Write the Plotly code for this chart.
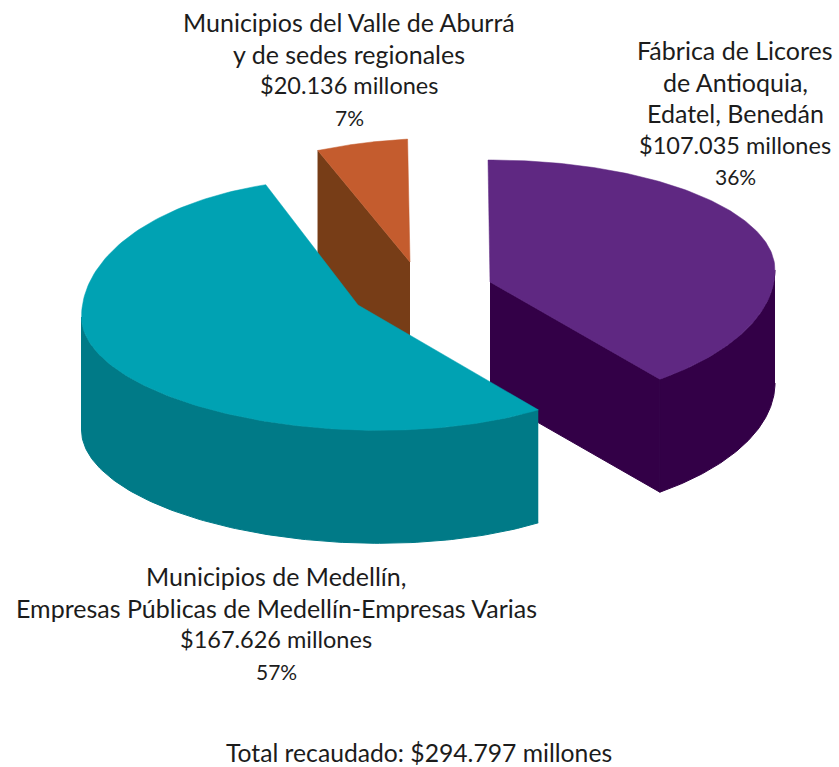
import numpy as np
import plotly.graph_objects as go

# ---- data ----
slice_names = ["Fabrica-Edatel-Benedan", "Medellin-EPM-Varias", "Valle de Aburra"]
slice_values = [107035, 167626, 20136]

label_lines = [
    ["Fábrica de Licores", "de Antioquia,", "Edatel, Benedán", "$107.035 millones", "36%"],
    ["Municipios de Medellín,", "Empresas Públicas de Medellín-Empresas Varias", "$167.626 millones", "57%"],
    ["Municipios del Valle de Aburrá", "y de sedes regionales", "$20.136 millones", "7%"],
]
total_label = "Total recaudado: $294.797 millones"

# ---- drawing style (pixel space of the 839x767 page) ----
W, H = 839, 767
DEPTH = 113
STYLE = [
    dict(top="#5F2882", side="#330047", cx=490, cy=270, apex_y=282, rx=285, ry_top=110, ry_bot=136, tilt=0, adj=(-0.4, 12.7), wall=(90, None)),
    dict(top="#00A2B3", side="#007A87", cx=358, cy=325, apex_y=305, rx=276.5, ry_top=146, ry_bot=105, tilt=8, adj=(8.6, 5.1), wall=(None, 270)),
    dict(top="#C45C2E", side="#773D17", cx=410, cy=262, apex_y=262, rx=275, ry_top=123, ry_bot=123, tilt=-13, adj=(5.0, -0.5), wall=None),
]
LABEL_POS = [(735, 50), (276, 576), (349, 22)]
LINE_STEP = 31.7
FAMILY = "Lato, 'Open Sans', sans-serif"
INK = "#1c1c1c"


def line_font(text):
    if text.endswith("%"):
        size = 21
    elif text.startswith("$"):
        size = 23.5
    else:
        size = 25
    return dict(family=FAMILY, size=size, color=INK)


def rim(s, t_deg):
    t = np.radians(np.asarray(t_deg, dtype=float))
    ry = np.where(np.cos(t) >= 0, s["ry_top"], s["ry_bot"])
    return s["cx"] + s["rx"] * np.sin(t), s["cy"] - ry * np.cos(t) + s["tilt"] * np.sin(t)


fig = go.Figure()


def poly(xs, ys, color, name, width=0.5):
    fig.add_trace(go.Scatter(
        x=list(xs), y=list(ys), mode="lines", fill="toself", fillcolor=color,
        line=dict(color=color, width=width), hoverinfo="skip", showlegend=False, name=name,
    ))


shares = np.array(slice_values, dtype=float) / sum(slice_values) * 360
ends = np.cumsum(shares)
starts = ends - shares

# back to front: purple, orange, teal
for i in [0, 2, 1]:
    s = STYLE[i]
    t0, t1 = starts[i] + s["adj"][0], ends[i] + s["adj"][1]
    ts = np.linspace(t0, t1, 160)
    ax, ay = s["cx"], s["apex_y"]
    # cut face at the end (purple) or start (orange) of the slice
    if i == 0:
        ex, ey = rim(s, t1)
        poly([ax, ex, ex, ax], [ay, ey, ey + DEPTH, ay + DEPTH], s["side"], slice_names[i], 1)
    if i == 2:
        ex, ey = rim(s, t0)
        poly([ax, ex, ex, ax], [ay, ey, ey + DEPTH, ay + DEPTH], s["side"], slice_names[i])
    # outer wall
    if s["wall"]:
        lo = max(t0, s["wall"][0]) if s["wall"][0] is not None else t0
        hi = min(t1, s["wall"][1]) if s["wall"][1] is not None else t1
        wt = np.linspace(lo, hi, 120)
        wx, wy = rim(s, wt)
        poly(np.r_[wx, wx[::-1]], np.r_[wy, wy[::-1] + DEPTH], s["side"], slice_names[i], 1)
    # top
    x, y = rim(s, ts)
    poly(np.r_[ax, x, ax], np.r_[ay, y, ay], s["top"], slice_names[i])

annotations = []
for lines, (cx, y0) in zip(label_lines, LABEL_POS):
    for k, line in enumerate(lines):
        annotations.append(dict(x=cx, y=y0 + k * LINE_STEP, text=line, showarrow=False,
                                xanchor="center", yanchor="middle", font=line_font(line)))
annotations.append(dict(x=419, y=752, text=total_label, showarrow=False,
                        xanchor="center", yanchor="middle",
                        font=dict(family=FAMILY, size=24.7, color=INK)))

fig.update_layout(
    width=W, height=H, margin=dict(l=0, r=0, t=0, b=0),
    paper_bgcolor="white", plot_bgcolor="white", showlegend=False,
    xaxis=dict(range=[0, W], visible=False, fixedrange=True),
    yaxis=dict(range=[H, 0], visible=False, fixedrange=True),
    annotations=annotations,
)
page_css = ("var st=document.createElement('style');"
            "st.textContent='html,body{margin:0;padding:0;overflow:hidden}';"
            "document.head.appendChild(st);")
fig.write_html("out.html", config=dict(displayModeBar=False), post_script=page_css)
